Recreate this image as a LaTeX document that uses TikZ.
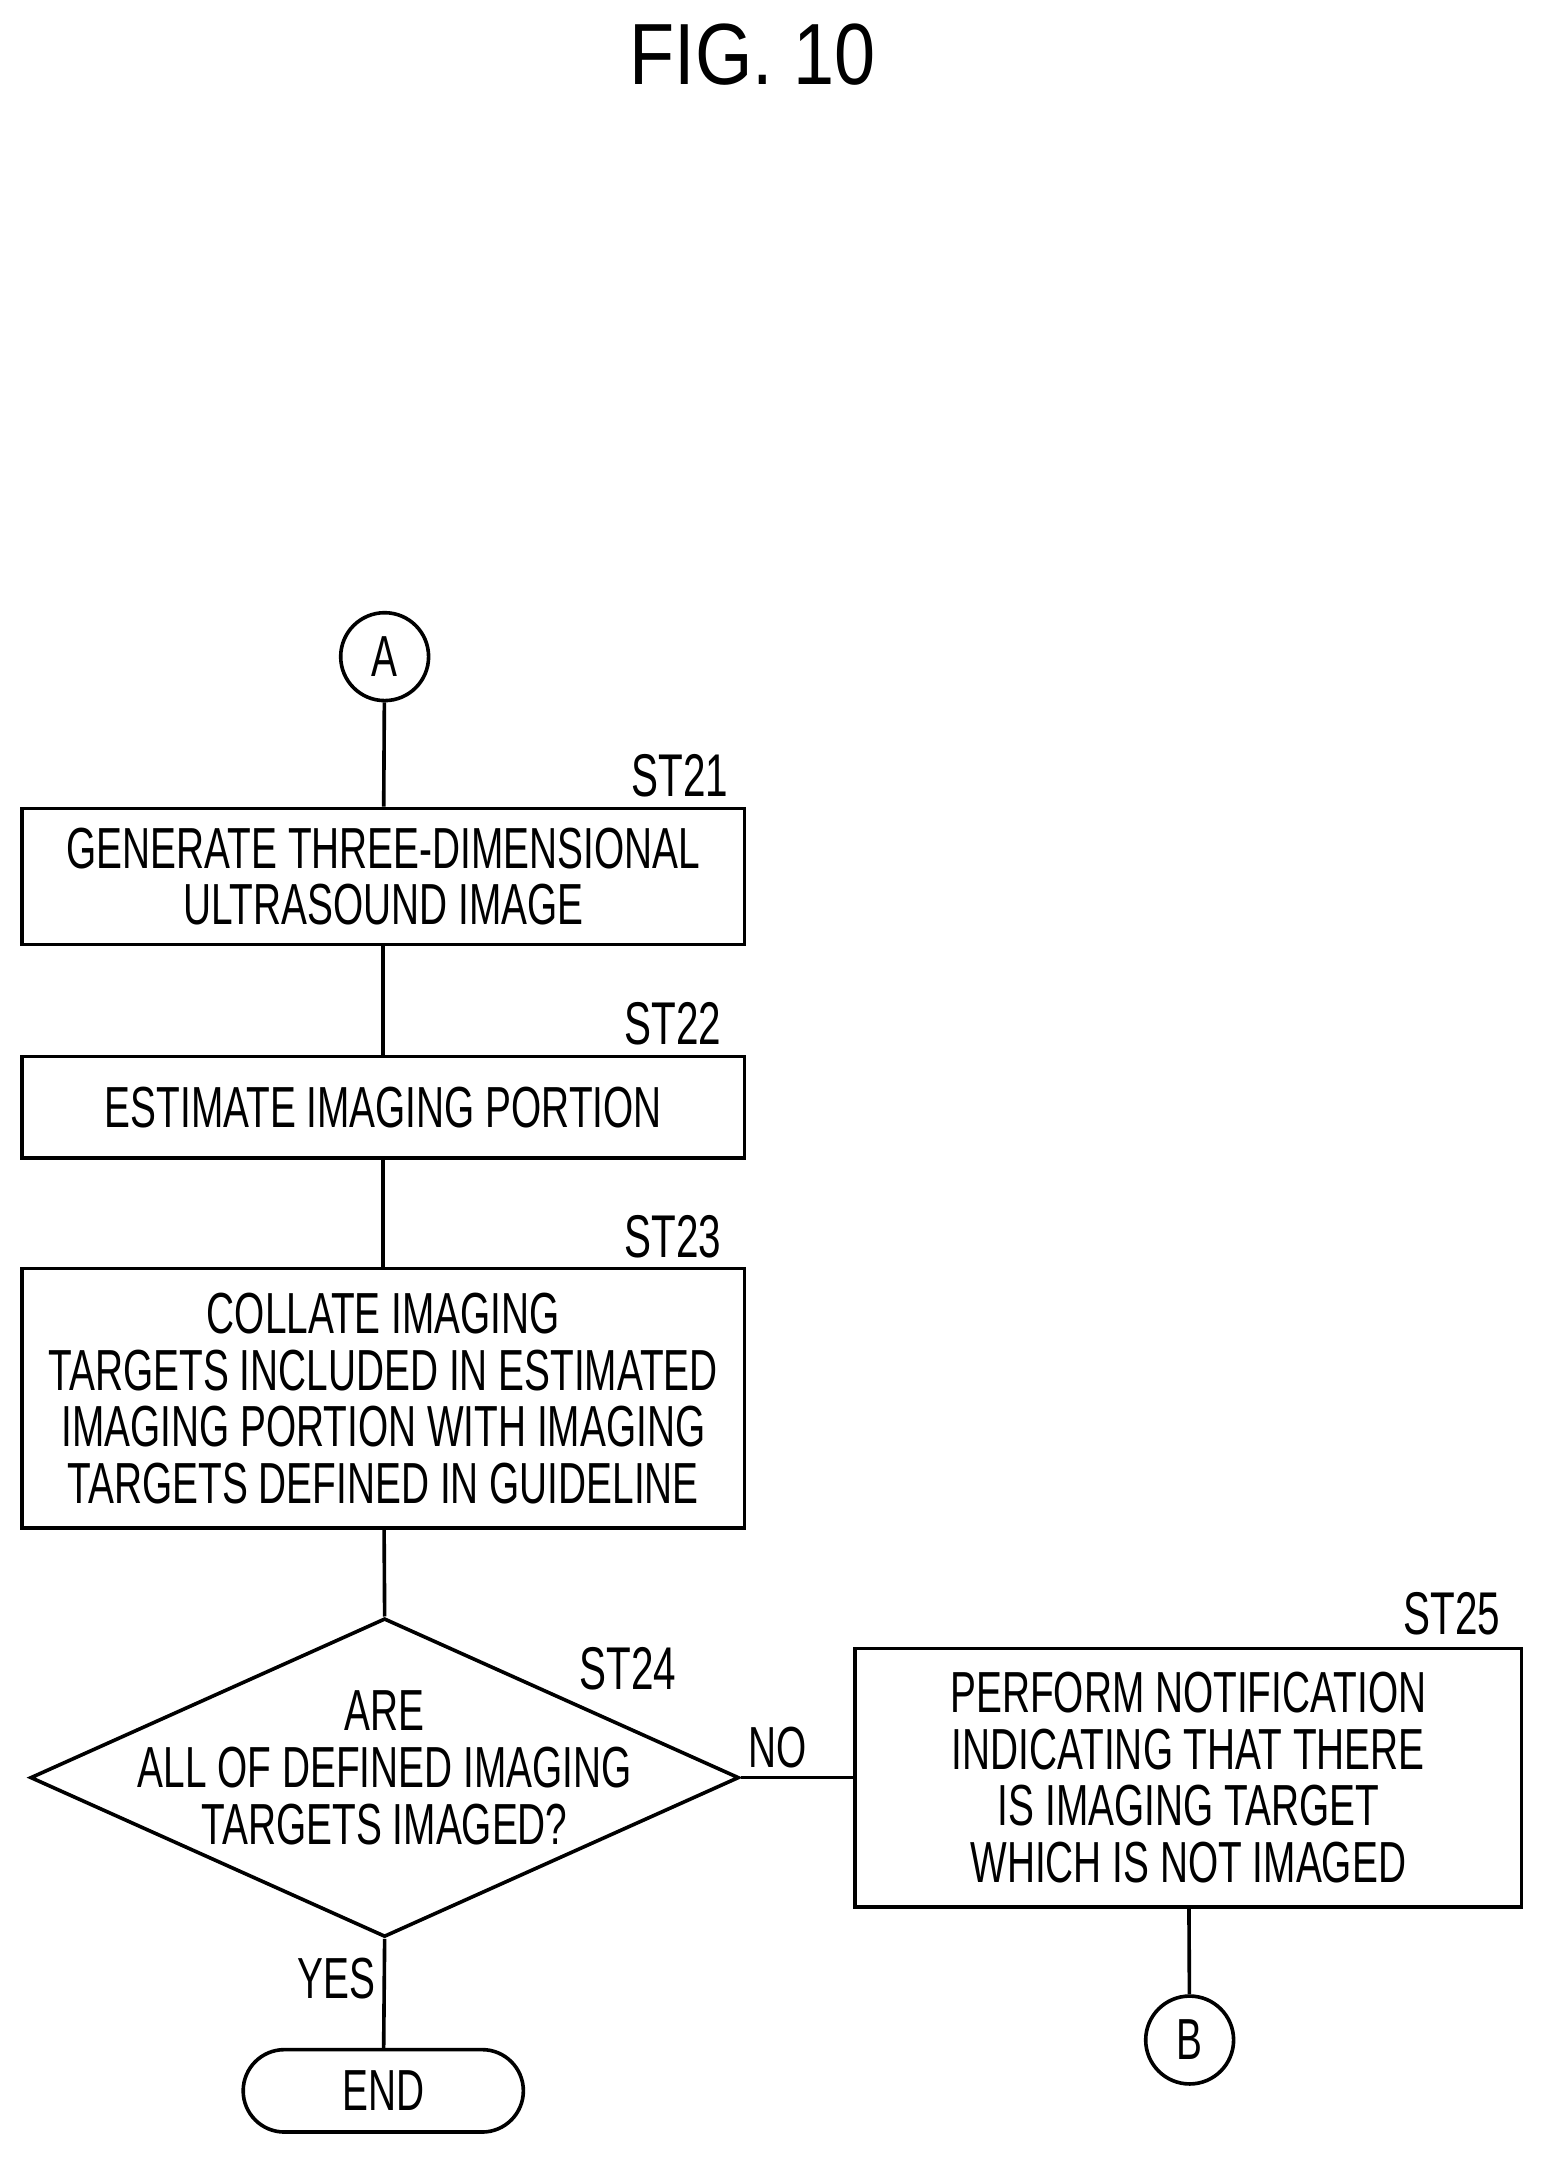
\documentclass[tikz,border=0pt]{standalone}
\usepackage{fontspec}
\setmainfont{Liberation Sans}[FakeStretch=0.67]
\newfontfamily\titlefont{Liberation Sans}[FakeStretch=0.85]
\usetikzlibrary{shapes.geometric}
\begin{document}
\begin{tikzpicture}[x=0.02cm,y=-0.02cm,line width=1.5pt,
  txt/.style={font=\fontsize{24}{23.5}\selectfont,align=center},
  box/.style={draw,txt,inner sep=0pt},
  lab/.style={font=\fontsize{25}{25}\selectfont}]
\useasboundingbox (0,0) rectangle (1130,1576);
\node[font=\titlefont\fontsize{36}{36}\selectfont] (title) at (548,40) {FIG. 10};
\node[draw,circle,minimum size=1.28cm,inner sep=0pt,txt] (A) at (280,478) {A};
\node[box,minimum width=10.52cm,minimum height=1.98cm] (s21) at (279,638) {GENERATE THREE-DIMENSIONAL\\ULTRASOUND IMAGE};
\node[lab] (l21) at (495,565) {ST21};
\node[box,minimum width=10.52cm,minimum height=1.48cm] (s22) at (279,806) {ESTIMATE IMAGING PORTION};
\node[lab] (l22) at (490,745) {ST22};
\node[box,minimum width=10.52cm,minimum height=3.78cm] (s23) at (279,1018) {COLLATE IMAGING\\TARGETS INCLUDED IN ESTIMATED\\IMAGING PORTION WITH IMAGING\\TARGETS DEFINED IN GUIDELINE};
\node[lab] (l23) at (490,900) {ST23};
\node[draw,diamond,aspect=2.22,minimum width=10.32cm,minimum height=4.64cm,inner sep=0pt] (d24) at (280,1294) {};
\node[txt] (t24) at (280,1287) {ARE\\ALL OF DEFINED IMAGING\\TARGETS IMAGED?};
\node[lab] (l24) at (457,1215) {ST24};
\node[box,minimum width=9.7cm,minimum height=3.76cm] (s25) at (865,1294) {PERFORM NOTIFICATION\\INDICATING THAT THERE\\IS IMAGING TARGET\\WHICH IS NOT IMAGED};
\node[lab] (l25) at (1057,1175) {ST25};
\node[txt] (no) at (566,1272) {NO};
\node[txt] (yes) at (245,1440) {YES};
\node[draw,rounded corners=0.6cm,minimum width=4.08cm,minimum height=1.2cm,inner sep=0pt,txt] (end) at (279,1522) {END};
\node[draw,circle,minimum size=1.28cm,inner sep=0pt,txt] (B) at (866,1485) {B};
\draw (A) -- (s21);
\draw (s21) -- (s22);
\draw (s22) -- (s23);
\draw (s23) -- (d24.north);
\draw (d24.east) -- (s25.west);
\draw (d24.south) -- (end);
\draw (s25) -- (B);
\end{tikzpicture}
\end{document}
